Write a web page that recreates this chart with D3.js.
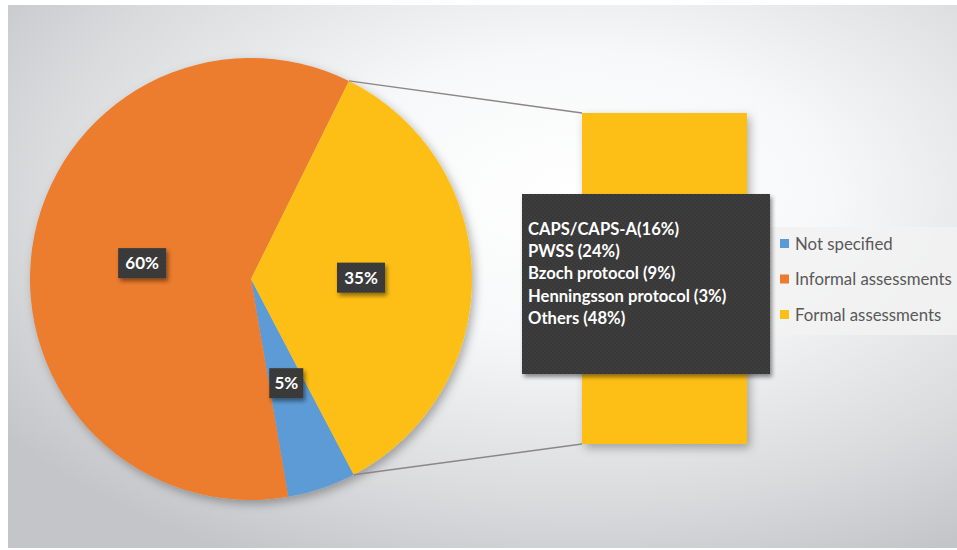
<!DOCTYPE html>
<html>
<head>
<meta charset="utf-8">
<script src="https://cdn.jsdelivr.net/npm/d3@7"></script>
<style>
  body { margin: 0; background: #fff; }
  svg { display: block; }
</style>
</head>
<body>
<div class="chart"></div>
<script>
const categories = ["Not specified", "Informal assessments", "Formal assessments"];
const values = [5, 60, 35];
const colors = ["#5B9BD5", "#EC7B2E", "#FDBF16"];
const formalBreakdown = ["CAPS/CAPS-A(16%)", "PWSS (24%)", "Bzoch protocol (9%)", "Henningsson protocol (3%)", "Others (48%)"];
const barValue = 35;

const width = 957;
const height = 550;
const cx = 251, cy = 279, radius = 221;

const svg = d3.select(".chart").append("svg")
    .attr("width", width)
    .attr("height", height);

const defs = svg.append("defs");

const bg = defs.append("radialGradient")
    .attr("id", "bg")
    .attr("cx", "0.6").attr("cy", "0.35").attr("r", "0.75");
bg.append("stop").attr("offset", "0").attr("stop-color", "#ffffff");
bg.append("stop").attr("offset", "0.35").attr("stop-color", "#f7f8f9");
bg.append("stop").attr("offset", "0.75").attr("stop-color", "#dadbdd");
bg.append("stop").attr("offset", "1").attr("stop-color", "#c4c5c8");

const shadow = defs.append("filter").attr("id", "shadow")
    .attr("x", "-20%").attr("y", "-20%").attr("width", "140%").attr("height", "140%");
shadow.append("feDropShadow")
    .attr("dx", 3).attr("dy", 4).attr("stdDeviation", 5)
    .attr("flood-color", "#000").attr("flood-opacity", 0.3);

const boxShadow = defs.append("filter").attr("id", "boxShadow")
    .attr("x", "-20%").attr("y", "-20%").attr("width", "140%").attr("height", "140%");
boxShadow.append("feDropShadow")
    .attr("dx", 2).attr("dy", 3).attr("stdDeviation", 2)
    .attr("flood-color", "#000").attr("flood-opacity", 0.45);

// dotted dark fill like the original text boxes
const dots = defs.append("pattern")
    .attr("id", "dots")
    .attr("width", 4).attr("height", 4)
    .attr("patternUnits", "userSpaceOnUse");
dots.append("rect").attr("width", 4).attr("height", 4).attr("fill", "#3c3c3c");
dots.append("circle").attr("cx", 1).attr("cy", 1).attr("r", 0.8).attr("fill", "#2f2f2f");
dots.append("circle").attr("cx", 3).attr("cy", 3).attr("r", 0.8).attr("fill", "#2f2f2f");

// chart area
svg.append("rect")
    .attr("x", 8).attr("y", 5)
    .attr("width", width - 8).attr("height", 543)
    .attr("fill", "url(#bg)");

// pie
const pie = d3.pie()
    .sort(null)
    .startAngle(152.3 * Math.PI / 180)
    .endAngle(152.3 * Math.PI / 180 + 2 * Math.PI);

const arcs = pie(values);
const arc = d3.arc().innerRadius(0).outerRadius(radius);
const labelArc = d3.arc().innerRadius(110).outerRadius(110);

const pieG = svg.append("g").attr("transform", `translate(${cx},${cy})`);

pieG.append("g")
    .attr("filter", "url(#shadow)")
    .selectAll("path")
    .data(arcs)
    .join("path")
    .attr("d", arc)
    .attr("fill", (d, i) => colors[i]);

// bar (second plot)
const barY = d3.scaleLinear().domain([0, barValue]).range([444, 113]);
const barX0 = 582, barX1 = 747;

svg.append("rect")
    .attr("x", barX0)
    .attr("y", barY(barValue))
    .attr("width", barX1 - barX0)
    .attr("height", barY(0) - barY(barValue))
    .attr("fill", colors[2])
    .attr("filter", "url(#shadow)");

// connector lines from the formal slice to the bar
const formal = arcs[2];
const edge = a => [cx + radius * Math.sin(a), cy - radius * Math.cos(a)];
const p0 = edge(formal.startAngle);
const p1 = edge(formal.endAngle);

svg.append("line")
    .attr("x1", p0[0]).attr("y1", p0[1])
    .attr("x2", barX0).attr("y2", barY(barValue))
    .attr("stroke", "#8f8585").attr("stroke-width", 1.5);
svg.append("line")
    .attr("x1", p1[0]).attr("y1", p1[1])
    .attr("x2", barX0).attr("y2", barY(0))
    .attr("stroke", "#8f8585").attr("stroke-width", 1.5);

// legend
const legend = svg.append("g");
legend.append("rect")
    .attr("x", 757).attr("y", 227)
    .attr("width", 200).attr("height", 108)
    .attr("fill", "#f2f2f2").attr("opacity", 0.85);

const legendY = d3.scalePoint().domain(categories).range([244, 315]);

legend.selectAll("rect.key")
    .data(categories)
    .join("rect")
    .attr("class", "key")
    .attr("x", 780)
    .attr("y", d => legendY(d) - 5)
    .attr("width", 9).attr("height", 9)
    .attr("fill", (d, i) => colors[i]);

legend.selectAll("text")
    .data(categories)
    .join("text")
    .attr("x", 795)
    .attr("y", d => legendY(d))
    .attr("dy", "0.35em")
    .attr("font-family", "Lato, 'Open Sans', sans-serif")
    .attr("font-size", 16.8)
    .attr("fill", "#595959")
    .text(d => d);

// dark box listing the formal assessments
svg.append("rect")
    .attr("x", 522).attr("y", 194)
    .attr("width", 248).attr("height", 180)
    .attr("fill", "url(#dots)")
    .attr("filter", "url(#boxShadow)");

const listY = d3.scalePoint().domain(formalBreakdown).range([229, 318]);

svg.append("g")
    .selectAll("text")
    .data(formalBreakdown)
    .join("text")
    .attr("x", 528)
    .attr("y", d => listY(d))
    .attr("dy", "0.35em")
    .attr("font-family", "Lato, 'Open Sans', sans-serif")
    .attr("font-weight", "bold")
    .attr("font-size", 16.6)
    .attr("fill", "#ffffff")
    .text(d => d);

// percentage labels
const labels = svg.append("g").attr("transform", `translate(${cx},${cy})`)
    .selectAll("g")
    .data(arcs)
    .join("g")
    .attr("transform", d => `translate(${labelArc.centroid(d)})`);

labels.append("rect")
    .attr("x", d => d.data < 10 ? -17 : -24)
    .attr("y", -15)
    .attr("width", d => d.data < 10 ? 34 : 48)
    .attr("height", 30)
    .attr("fill", "url(#dots)")
    .attr("filter", "url(#boxShadow)");

labels.append("text")
    .attr("text-anchor", "middle")
    .attr("dy", "0.36em")
    .attr("font-family", "Lato, 'Open Sans', sans-serif")
    .attr("font-weight", "bold")
    .attr("font-size", 17)
    .attr("fill", "#ffffff")
    .text(d => d.data + "%");
</script>
</body>
</html>
